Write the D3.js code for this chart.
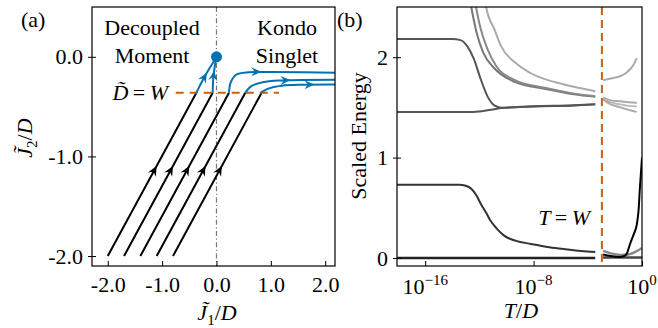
<!DOCTYPE html>
<html>
<head>
<meta charset="utf-8">
<script src="https://cdnjs.cloudflare.com/ajax/libs/d3/7.8.5/d3.min.js"></script>
<style>
  body { margin: 0; background: #fff; }
  text { font-family: "Liberation Serif", "DejaVu Serif", serif; fill: #000; }
</style>
</head>
<body>
<div id="chart"></div>
<script>
// ---- panel (a) data: RG flows in (J1, J2) plane ----
var flowStartsJ1 = [-2.0, -1.7, -1.4, -1.1, -0.8];
var flowStartJ2 = -2.0;
var crossoverJ2 = -0.36;     // D~ = W line
var blackRise = 1.63;        // J1 gained along the black segment

var blueFlows = [
  [[-0.37, -0.36], [-0.24, -0.22], [-0.1, -0.09], [-0.02, -0.02], [0, 0]],
  [[-0.07, -0.36], [-0.06, -0.22], [-0.03, -0.09], [0, 0]],
  [[0.23, -0.36], [0.26, -0.26], [0.36, -0.18], [0.6, -0.155], [1.0, -0.152], [2.3, -0.16]],
  [[0.53, -0.36], [0.64, -0.295], [0.85, -0.255], [1.2, -0.237], [2.3, -0.23]],
  [[0.82, -0.36], [0.95, -0.32], [1.2, -0.29], [1.6, -0.28], [2.3, -0.278]]
];
var blueArrowAt = [0.45, 0.5, 0.33, 0.45, 0.62]; // fraction along each path
var fixedPoint = [0, 0];

var xTicksA = [-2.0, -1.0, 0.0, 1.0, 2.0];
var yTicksA = [0.0, -1.0, -2.0];

// ---- panel (b) data: scaled energies vs log10(T/D) ----
var levelsBelow = [
  { color: "#222", w: 2.6, pts: [[-18.1, 0], [-3.45, 0]] },
  { color: "#333", w: 2, pts: [[-18.1, 0.73], [-13.5, 0.73], [-13.0, 0.72], [-12.6, 0.69], [-12.2, 0.62], [-11.9, 0.54], [-11.5, 0.45], [-11.2, 0.375], [-10.7, 0.29], [-10.2, 0.225], [-9.3, 0.17], [-8.2, 0.14], [-7, 0.11], [-5.8, 0.09], [-4.5, 0.07], [-3.45, 0.06]] },
  { color: "#555", w: 2, pts: [[-18.1, 1.455], [-13, 1.455], [-12, 1.46], [-11, 1.48], [-10.4, 1.493], [-8, 1.51], [-5, 1.52], [-3.45, 1.53]] },
  { color: "#555", w: 2, pts: [[-18.1, 2.18], [-14, 2.18], [-13.4, 2.17], [-12.9, 2.11], [-12.4, 1.98], [-11.9, 1.78], [-11.4, 1.61], [-10.9, 1.52], [-10.4, 1.497], [-8, 1.512], [-5, 1.522], [-3.45, 1.532]] },
  { color: "#777", w: 2, pts: [[-12.8, 2.65], [-12.6, 2.5], [-12.2, 2.24], [-11.7, 2.04], [-10.9, 1.89], [-9.5, 1.76], [-7, 1.68], [-5, 1.63], [-3.45, 1.605]] },
  { color: "#888", w: 2, pts: [[-12.45, 2.65], [-12.25, 2.5], [-11.9, 2.28], [-11.4, 2.08], [-10.8, 1.92], [-9.5, 1.78], [-7, 1.69], [-5, 1.635], [-3.45, 1.61]] },
  { color: "#aaa", w: 2, pts: [[-11.6, 2.65], [-11.5, 2.5], [-10.9, 2.28], [-10.4, 2.11], [-9.2, 1.93], [-8.2, 1.84], [-5.8, 1.73], [-4.5, 1.69], [-3.45, 1.66]] }
];
var levelsAbove = [
  { color: "#aaa", w: 2, pts: [[-2.87, 1.77], [-2.2, 1.79], [-1.62, 1.81], [-1.2, 1.84], [-0.88, 1.88], [-0.6, 1.93], [-0.39, 1.99]] },
  { color: "#aaa", w: 2, pts: [[-2.87, 1.6], [-2.3, 1.57], [-1.6, 1.56], [-1, 1.55], [-0.39, 1.545]] },
  { color: "#bbb", w: 2, pts: [[-2.87, 1.59], [-2.3, 1.55], [-1.6, 1.53], [-1, 1.515], [-0.39, 1.51]] },
  { color: "#aaa", w: 2, pts: [[-2.87, 1.58], [-2.3, 1.53], [-1.6, 1.5], [-1, 1.475], [-0.39, 1.455]] },
  { color: "#444", w: 2.6, pts: [[-2.87, 0.005], [0, 0.005]] },
  { color: "#888", w: 2.4, pts: [[-2.87, 0.07], [-2.3, 0.045], [-1.6, 0.03], [-1.0, 0.035], [-0.5, 0.06], [0, 0.1]] },
  { color: "#000", w: 2, pts: [[-2.87, 0.035], [-2.3, 0.02], [-1.7, 0.01], [-1.3, 0.02], [-1.1, 0.05], [-0.88, 0.14], [-0.6, 0.24], [-0.39, 0.33], [-0.25, 0.48], [-0.15, 0.71], [-0.05, 0.9], [0, 1.0]] }
];
var logTW = -2.96;
var xTicksB = [-16, -8, 0];
var yTicksB = [0, 1, 2];

var blue = "#0072b2", orange = "#d55e00";

var svg = d3.select("#chart").append("svg")
    .attr("width", 658).attr("height", 328);

var defs = svg.append("defs");
defs.append("clipPath").attr("id", "clipA").append("rect")
    .attr("x", 92).attr("y", 7).attr("width", 243).attr("height", 259);
defs.append("clipPath").attr("id", "clipB").append("rect")
    .attr("x", 397).attr("y", 7).attr("width", 245).attr("height", 259);

var arrowShape = "M0,0 L-10,-4.5 L-6.5,0 L-10,4.5 Z";

function arrowAlong(g, path, frac, color) {
  var node = path.node();
  var L = node.getTotalLength();
  var p = node.getPointAtLength(L * frac);
  var q = node.getPointAtLength(Math.min(L, L * frac + 2));
  var ang = Math.atan2(q.y - p.y, q.x - p.x) * 180 / Math.PI;
  g.append("path").attr("d", arrowShape).attr("fill", color)
      .attr("transform", "translate(" + (p.x + (q.x - p.x) * 2) + "," + (p.y + (q.y - p.y) * 2) + ") rotate(" + ang + ")");
}

// hyphen minus like the original tick labels
var fmt1 = function (d) { return d.toFixed(1); };

// ================= panel (a) =================
var xA = d3.scaleLinear().domain([-2.29, 2.18]).range([92, 335]);
var yA = d3.scaleLinear().domain([-2.1, 0.5]).range([266, 7]);

var gA = svg.append("g");
var plotA = gA.append("g").attr("clip-path", "url(#clipA)");

// vertical J1 = 0 line
plotA.append("line")
    .attr("x1", xA(0)).attr("x2", xA(0)).attr("y1", yA(0.5)).attr("y2", yA(-2.1))
    .attr("stroke", "#777").attr("stroke-width", 1.2).attr("stroke-dasharray", "5,2.5,1.2,2.5");

// black flows
flowStartsJ1.forEach(function (x0) {
  var p = plotA.append("path")
      .attr("d", d3.line()([[xA(x0), yA(flowStartJ2)], [xA(x0 + blackRise), yA(crossoverJ2)]]))
      .attr("stroke", "#000").attr("stroke-width", 2).attr("fill", "none");
  arrowAlong(plotA, p, 0.53, "#000");
});

// orange dashed D~ = W
plotA.append("line")
    .attr("x1", xA(-0.75)).attr("x2", xA(1.15)).attr("y1", yA(crossoverJ2)).attr("y2", yA(crossoverJ2))
    .attr("stroke", orange).attr("stroke-width", 2).attr("stroke-dasharray", "8,6");

// blue flows
var flowLine = d3.line().x(function (d) { return xA(d[0]); }).y(function (d) { return yA(d[1]); })
    .curve(d3.curveCatmullRom);
blueFlows.forEach(function (f, i) {
  var p = plotA.append("path")
      .attr("d", flowLine(f))
      .attr("stroke", blue).attr("stroke-width", 2).attr("fill", "none");
  arrowAlong(plotA, p, blueArrowAt[i], blue);
});

plotA.append("circle").attr("cx", xA(fixedPoint[0])).attr("cy", yA(fixedPoint[1])).attr("r", 5.5)
    .attr("fill", blue);

// axes (a)
gA.append("g").attr("transform", "translate(0,266)")
    .call(d3.axisBottom(xA).tickValues(xTicksA).tickFormat(fmt1).tickSizeInner(-5).tickSizeOuter(0).tickPadding(10));
gA.append("g").attr("class", "yax").attr("transform", "translate(92,0)")
    .call(d3.axisLeft(yA).tickValues(yTicksA).tickFormat(fmt1).tickSizeInner(4).tickSizeOuter(0).tickPadding(5));
gA.append("rect").attr("x", 92).attr("y", 7).attr("width", 243).attr("height", 259)
    .attr("fill", "none").attr("stroke", "#000").attr("stroke-width", 1.2);

// ================= panel (b) =================
var xB = d3.scaleLog().domain([Math.pow(10, -18.08), 1]).range([397, 642]);
var yB = d3.scaleLinear().domain([-0.08, 2.5]).range([266, 7]);

var gB = svg.append("g");
var plotB = gB.append("g").attr("clip-path", "url(#clipB)");

var levelLine = d3.line()
    .x(function (d) { return xB(Math.pow(10, d[0])); })
    .y(function (d) { return yB(d[1]); })
    .curve(d3.curveMonotoneX);

levelsBelow.concat(levelsAbove).forEach(function (lv) {
  plotB.append("path").attr("d", levelLine(lv.pts))
      .attr("stroke", lv.color).attr("stroke-width", lv.w).attr("fill", "none");
});

plotB.append("line")
    .attr("x1", xB(Math.pow(10, logTW))).attr("x2", xB(Math.pow(10, logTW)))
    .attr("y1", 7).attr("y2", 266)
    .attr("stroke", orange).attr("stroke-width", 2).attr("stroke-dasharray", "8,5");

gB.append("g").attr("transform", "translate(0,266)")
    .call(d3.axisBottom(xB).tickValues(xTicksB.map(function (e) { return Math.pow(10, e); }))
      .tickFormat("").tickSizeInner(-5).tickSizeOuter(0));
gB.append("g").attr("class", "yax").attr("transform", "translate(397,0)")
    .call(d3.axisLeft(yB).tickValues(yTicksB).tickFormat(d3.format("d")).tickSizeInner(4).tickSizeOuter(0).tickPadding(5));
gB.append("rect").attr("x", 397).attr("y", 7).attr("width", 245).attr("height", 259)
    .attr("fill", "none").attr("stroke", "#000").attr("stroke-width", 1.2);

// log tick labels 10^e
xTicksB.forEach(function (e) {
  var t = gB.append("text").attr("x", xB(Math.pow(10, e))).attr("y", 294)
      .attr("text-anchor", "middle").style("font-size", "22px");
  t.append("tspan").text("10");
  t.append("tspan").attr("dy", -9).style("font-size", "15px").text(e === 0 ? "0" : "\u2212" + (-e));
});

// style axis text
svg.selectAll(".tick text").style("font-size", "22px").style("font-family", "Liberation Serif");
svg.selectAll(".domain").remove();
svg.selectAll(".tick line").attr("stroke", "#000").attr("stroke-width", 1);
// y ticks cross the spine
svg.selectAll(".yax .tick line").attr("x1", 4).attr("x2", -4);

// ================= labels =================
function mathLabel(x, y, sub, rotate) {
  var t = svg.append("text")
      .attr("transform", "translate(" + x + "," + y + ")" + (rotate ? " rotate(-90)" : ""))
      .attr("text-anchor", "middle").style("font-size", "22px");
  t.append("tspan").style("font-style", "italic").text("J\u0303");
  t.append("tspan").attr("dy", 5).style("font-size", "15px").text(sub);
  t.append("tspan").attr("dy", -5).text("/");
  t.append("tspan").style("font-style", "italic").text("D");
}
mathLabel(217, 320, "1", false);
mathLabel(32, 138, "2", true);

svg.append("text").attr("x", 21).attr("y", 27).style("font-size", "22px").text("(a)");
svg.append("text").attr("x", 337).attr("y", 27).style("font-size", "22px").text("(b)");

svg.append("text").attr("x", 152).attr("y", 35).attr("text-anchor", "middle").style("font-size", "22px").text("Decoupled");
svg.append("text").attr("x", 152).attr("y", 63).attr("text-anchor", "middle").style("font-size", "22px").text("Moment");
svg.append("text").attr("x", 287).attr("y", 35).attr("text-anchor", "middle").style("font-size", "22px").text("Kondo");
svg.append("text").attr("x", 287).attr("y", 63).attr("text-anchor", "middle").style("font-size", "22px").text("Singlet");

var dw = svg.append("text").attr("x", 168).attr("y", 100).attr("text-anchor", "end").style("font-size", "22px");
dw.append("tspan").style("font-style", "italic").text("D\u0303");
dw.append("tspan").text("\u2009=\u2009");
dw.append("tspan").style("font-style", "italic").text("W");

var tw = svg.append("text").attr("x", 590).attr("y", 225).attr("text-anchor", "end").style("font-size", "22px");
tw.append("tspan").style("font-style", "italic").text("T");
tw.append("tspan").text("\u2009=\u2009");
tw.append("tspan").style("font-style", "italic").text("W");

var td = svg.append("text").attr("x", 521).attr("y", 318).attr("text-anchor", "middle").style("font-size", "22px");
td.append("tspan").style("font-style", "italic").text("T");
td.append("tspan").text("/");
td.append("tspan").style("font-style", "italic").text("D");

svg.append("text").attr("transform", "translate(366,136) rotate(-90)").attr("text-anchor", "middle")
    .style("font-size", "22px").text("Scaled Energy");
</script>
</body>
</html>
